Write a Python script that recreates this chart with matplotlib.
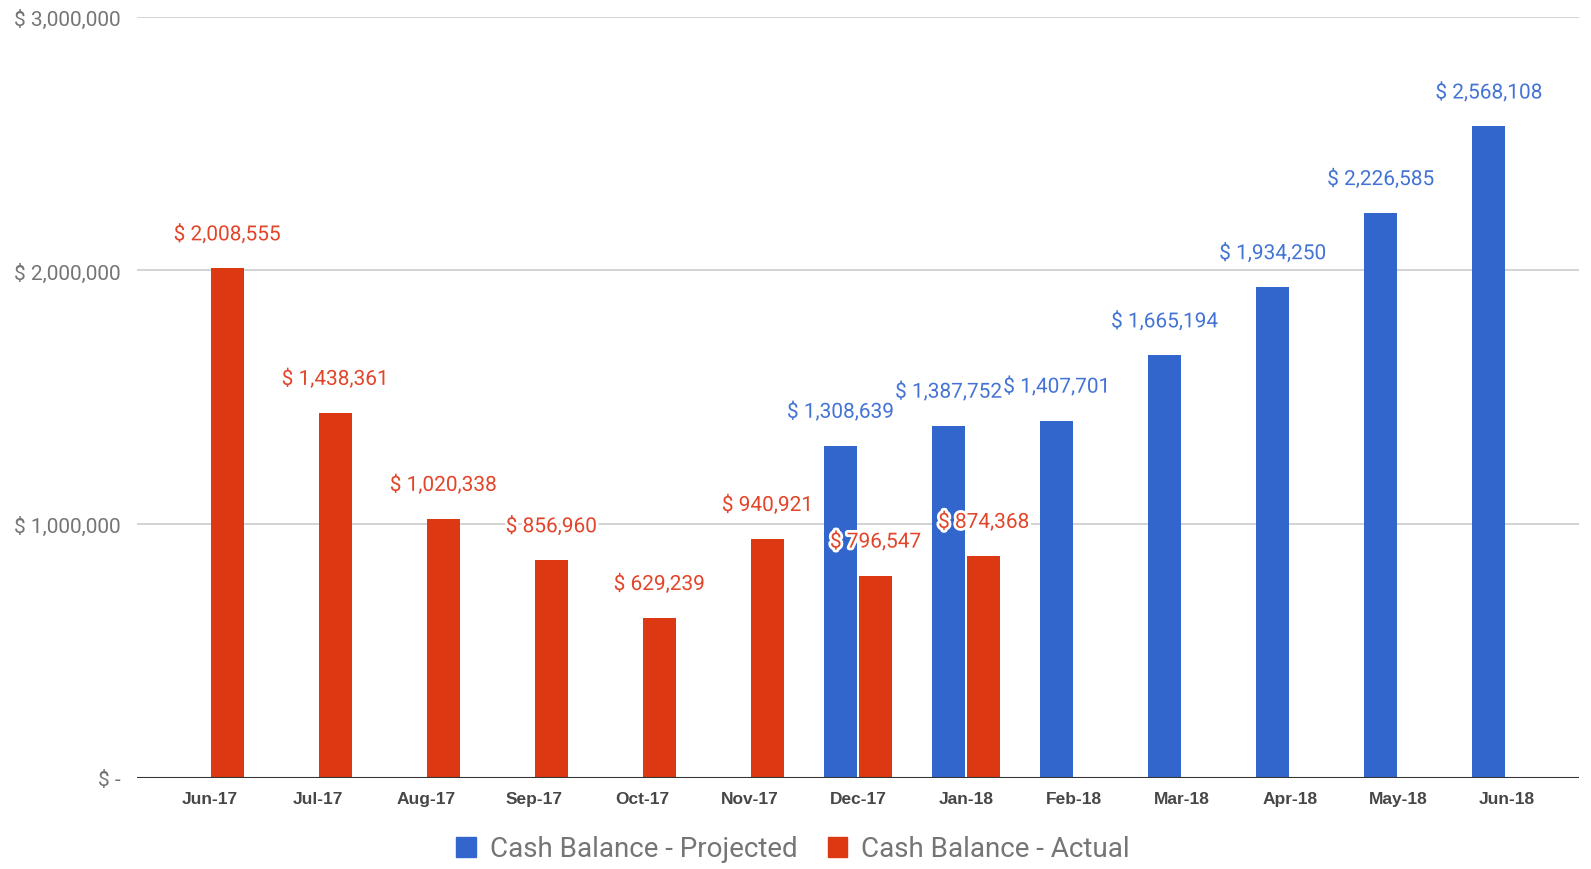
import matplotlib
matplotlib.use("Agg")
import matplotlib.pyplot as plt
import matplotlib.patheffects as pe
from matplotlib.patches import Patch
import numpy as np

months = ["Jun-17", "Jul-17", "Aug-17", "Sep-17", "Oct-17", "Nov-17", "Dec-17",
          "Jan-18", "Feb-18", "Mar-18", "Apr-18", "May-18", "Jun-18"]
projected = [None, None, None, None, None, None, 1308639, 1387752, 1407701,
             1665194, 1934250, 2226585, 2568108]
actual = [2008555, 1438361, 1020338, 856960, 629239, 940921, 796547, 874368,
          None, None, None, None, None]
y_ticks = [0, 1000000, 2000000, 3000000]
y_tick_labels = ["$ -", "$ 1,000,000", "$ 2,000,000", "$ 3,000,000"]
series_names = ["Cash Balance - Projected", "Cash Balance - Actual"]

BLUE = "#3366CC"
RED = "#DC3912"
BLUE_TXT = "#4473d6"
RED_TXT = "#e2452a"
GRAY = "#757575"

W, H, DPI = 1591, 870, 100
fig = plt.figure(figsize=(W / DPI, H / DPI), dpi=DPI)
ax = fig.add_axes([137 / W, 1 - 778.5 / H, (1579 - 137) / W, (778.5 - 18) / H])

x = np.arange(len(months))
bw = 0.305
off = 0.162


def fmt(v):
    return "$ {:,}".format(v)


halo = [pe.withStroke(linewidth=4, foreground="white")]
labels = []
for series, sign, color, tcolor in [(projected, -1, BLUE, BLUE_TXT),
                                    (actual, 1, RED, RED_TXT)]:
    for i, v in enumerate(series):
        if v is None:
            continue
        xi = x[i] + sign * off
        ax.bar(xi, v, width=bw, color=color, zorder=3)
        labels.append((xi, v, tcolor))

for xi, v, tcolor in labels:
    ax.annotate(fmt(v), (xi, v), xytext=(0, 24), textcoords="offset pixels",
                ha="center", va="bottom", fontsize=15, family="Roboto",
                color=tcolor, zorder=5, path_effects=halo)

ax.set_xlim(-0.672, len(months) - 1 + 0.672)
ax.set_ylim(0, 3000000)
ax.set_yticks(y_ticks)
ax.set_yticklabels(y_tick_labels, family="Roboto", fontsize=15, color=GRAY)
ax.set_xticks(x)
ax.set_xticklabels(months, family="Liberation Sans", fontsize=12.5,
                   fontweight="bold", color="#474747")
ax.tick_params(axis="both", length=0)
ax.tick_params(axis="y", pad=12)
ax.tick_params(axis="x", pad=10)

for t in y_ticks[1:]:
    ax.axhline(t, color="#cccccc", linewidth=1.2, zorder=1)
ax.axhline(0, color="#333333", linewidth=1.5, zorder=4)
for s in ax.spines.values():
    s.set_visible(False)

handles = [Patch(facecolor=BLUE, edgecolor=BLUE), Patch(facecolor=RED, edgecolor=RED)]
leg = fig.legend(handles, series_names, loc="center", bbox_to_anchor=(793 / W, 1 - 850 / H),
                 ncol=2, frameon=False, handlelength=0.7, handleheight=0.75,
                 handletextpad=0.5, columnspacing=1.1,
                 prop={"family": "Roboto", "size": 20})
for t in leg.get_texts():
    t.set_color(GRAY)

fig.savefig("out.png", dpi=DPI, facecolor="white")
